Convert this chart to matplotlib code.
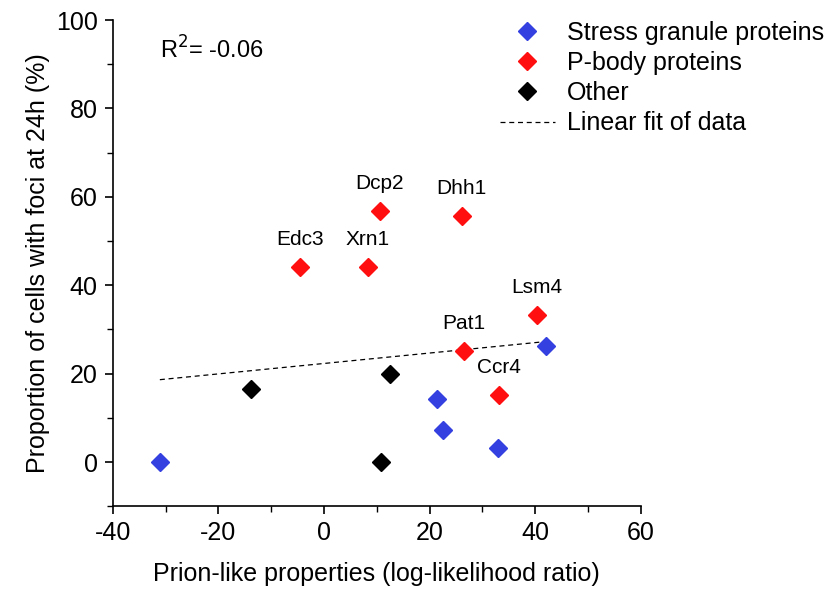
import numpy as np
import matplotlib
matplotlib.use("Agg")
import matplotlib.pyplot as plt
from matplotlib.lines import Line2D
from matplotlib.ticker import MultipleLocator

plt.rcParams['font.family'] = ['Liberation Sans', 'DejaVu Sans']
plt.rcParams['axes.unicode_minus'] = False

# stress granule proteins
sg_x = [-31.1, 21.4, 22.5, 32.9, 42.0]
sg_y = [0.0, 14.3, 7.2, 3.2, 26.2]

# P-body proteins
pb_names = ['Edc3', 'Xrn1', 'Dcp2', 'Dhh1', 'Pat1', 'Ccr4', 'Lsm4']
pb_x = [-4.6, 8.3, 10.6, 26.1, 26.5, 33.1, 40.3]
pb_y = [44.1, 44.1, 56.8, 55.7, 25.1, 15.2, 33.3]

# other
ot_x = [-13.9, 12.5, 10.8]
ot_y = [16.5, 19.9, 0.0]

# linear fit shown in the figure
fit_slope = 0.118
fit_intercept = 22.3
r2_text = 'R$^2$= -0.06'

fig = plt.figure(figsize=(8.3, 5.9), dpi=100)
ax = fig.add_axes([0.136, 0.142, 0.636, 0.824])

all_x = np.array(sg_x + pb_x + ot_x)
fx = np.array([all_x.min(), all_x.max()])
ax.plot(fx, fit_intercept + fit_slope * fx, '--', color='black', lw=0.9, dashes=(4, 3))

ms = 9.5
ax.plot(sg_x, sg_y, 'D', color='#3440e0', ms=ms, ls='none')
ax.plot(pb_x, pb_y, 'D', color='#ff0f0f', ms=ms, ls='none')
ax.plot(ot_x, ot_y, 'D', color='black', ms=ms, ls='none')

for name, x, y in zip(pb_names, pb_x, pb_y):
    ax.annotate(name, (x, y), xytext=(0, 13), textcoords='offset points',
                ha='center', va='bottom', fontsize=15)

ax.text(0.09, 0.92, r2_text, transform=ax.transAxes, fontsize=17)

ax.set_xlim(-40, 60)
ax.set_ylim(-10, 100)
ax.xaxis.set_major_locator(MultipleLocator(20))
ax.xaxis.set_minor_locator(MultipleLocator(10))
ax.yaxis.set_major_locator(MultipleLocator(20))
ax.yaxis.set_minor_locator(MultipleLocator(10))
ax.set_yticks([0, 20, 40, 60, 80, 100])
for s in ['top', 'right']:
    ax.spines[s].set_visible(False)
for s in ['left', 'bottom']:
    ax.spines[s].set_linewidth(1.2)
ax.tick_params(which='major', direction='out', length=6, width=1.2, labelsize=18, pad=5)
ax.tick_params(which='minor', direction='out', length=4, width=1.0)

ax.set_xlabel('Prion-like properties (log-likelihood ratio)', fontsize=18, labelpad=12)
ax.set_ylabel('Proportion of cells with foci at 24h (%)', fontsize=18, labelpad=4)

handles = [
    Line2D([], [], marker='D', color='#3440e0', ls='none', ms=ms),
    Line2D([], [], marker='D', color='#ff0f0f', ls='none', ms=ms),
    Line2D([], [], marker='D', color='black', ls='none', ms=ms),
    Line2D([], [], color='black', ls='--', lw=0.9, dashes=(4, 3)),
]
labels = ['Stress granule proteins', 'P-body proteins', 'Other', 'Linear fit of data']
fig.legend(handles, labels, loc='upper left', bbox_to_anchor=(0.575, 1.003),
           frameon=False, fontsize=18, handlelength=2.2, labelspacing=0.25,
           handletextpad=0.5)

fig.savefig('out.png', dpi=100)
